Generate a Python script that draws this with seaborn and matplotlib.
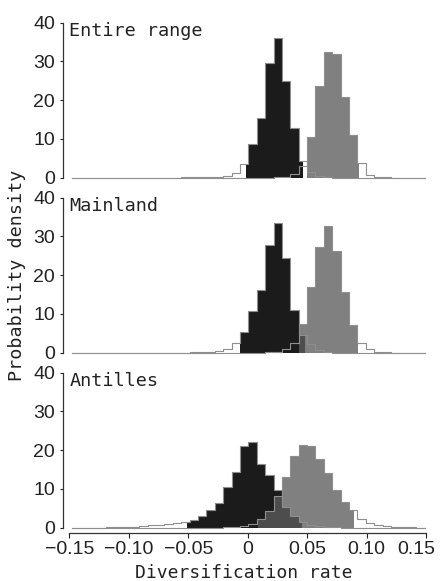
import numpy as np
import seaborn as sns
import matplotlib.pyplot as plt
import matplotlib.transforms as mtransforms

# common histogram grid (density per bin)
first_edge = -0.1475
bin_width = 0.00705
n_bins = 42

panel_names = ["Entire range", "Mainland", "Antilles"]

# dark distribution (first rate) and grey distribution (second rate)
entire_dark = [0] * 13 + [0.05, 0.05, 0.1, 0.1, 0.2, 0.5, 1.1, 3.6, 8.7, 15.5, 29.5, 36.1,
                          25.0, 12.9, 4.3, 1.5, 0.4, 0.1] + [0] * 11
entire_grey = [0] * 24 + [0.1, 0.3, 1.0, 3.0, 10.6, 23.7, 32.5, 31.8, 20.9, 11.0, 3.7,
                          0.8, 0.2, 0.1] + [0] * 4

mainland_dark = [0] * 14 + [0.05, 0.1, 0.1, 0.4, 0.9, 2.6, 5.4, 10.8, 16.2, 27.7, 33.5,
                            24.3, 11.0, 4.5, 2.2, 0.8, 0.2] + [0] * 11
mainland_grey = [0] * 23 + [0.1, 0.3, 1.0, 2.5, 7.3, 17.0, 27.3, 32.7, 26.2, 15.7, 7.1,
                            2.4, 0.9, 0.3, 0.1] + [0] * 4

antilles_dark = [0] * 3 + [0.05, 0.1, 0.15, 0.2, 0.3, 0.4, 0.6, 0.8, 1.0, 1.3, 1.6, 1.9,
                           3.0, 4.5, 6.4, 10.4, 14.4, 21.0, 22.1, 16.5, 13.5, 9.7, 5.4,
                           3.0, 1.5, 0.8, 0.4, 0.2, 0.1] + [0] * 10
antilles_grey = [0] * 18 + [0.1, 0.3, 0.5, 1.0, 2.2, 4.4, 8.1, 13.1, 18.4, 21.3, 21.1,
                            17.6, 14.1, 9.7, 6.7, 4.5, 2.2, 1.2, 0.7, 0.4, 0.25, 0.15,
                            0.1, 0.05]

# 95% intervals that are shaded
entire_hpd = [(-0.0017, 0.0467), (0.0496, 0.0931)]
mainland_hpd = [(-0.0065, 0.0482), (0.0431, 0.0929)]
antilles_hpd = [(-0.0513, 0.0454), (0.0089, 0.0889)]

x_ticks = [-0.15, -0.10, -0.05, 0, 0.05, 0.10, 0.15]
x_tick_labels = ["\u22120.15", "\u22120.10", "\u22120.05", "0", "0.05", "0.10", "0.15"]
y_ticks = [0, 10, 20, 30, 40]

edges = first_edge + bin_width * np.arange(n_bins + 1)
centers = edges[:-1] + bin_width / 2

mono = "DejaVu Sans Mono"
plt.rcParams["font.family"] = ["Liberation Sans", "DejaVu Sans"]
plt.rcParams["axes.linewidth"] = 0.9

outline = "#8f8f8f"
spine_col = "#333333"
text_col = "#222222"


def draw_hist(ax, heights, hpd, color, alpha):
    h = np.asarray(heights, dtype=float)
    # full posterior as a thin outline
    sns.histplot(x=centers, weights=h, bins=list(edges), element="step", fill=False,
                 color=outline, linewidth=0.8, ax=ax)
    # shaded part inside the interval
    lo, hi = hpd
    keep = (edges[1:] > lo) & (edges[:-1] < hi)
    left = np.clip(edges[:-1][keep], lo, hi)
    right = np.clip(edges[1:][keep], lo, hi)
    sns.histplot(x=(left + right) / 2, weights=h[keep], bins=list(np.append(left, right[-1])),
                 element="step", fill=True, color=color, alpha=alpha, linewidth=0, ax=ax)


fig = plt.figure(figsize=(4.4, 5.81), dpi=100)
ax_left, ax_width = 0.1573, 0.8114
bottoms = [0.6942, 0.3930, 0.0917]
height = 0.2670

series = [
    (entire_dark, entire_grey, entire_hpd),
    (mainland_dark, mainland_grey, mainland_hpd),
    (antilles_dark, antilles_grey, antilles_hpd),
]

for i, (name, (dark, grey, hpd)) in enumerate(zip(panel_names, series)):
    ax = fig.add_axes([ax_left, bottoms[i], ax_width, height])
    draw_hist(ax, dark, hpd[0], "#1b1b1b", 1.0)
    draw_hist(ax, grey, hpd[1], "#5c5c5c", 0.78)
    for line in ax.lines:
        line.set_clip_on(False)

    ax.set_xlim(-0.15, 0.15)
    ax.set_ylim(0, 40)
    ax.set_xlabel("")
    ax.set_ylabel("")
    sns.despine(ax=ax, top=True, right=True, bottom=(i < 2))
    ax.spines["left"].set_position(("outward", 4.5))
    ax.spines["left"].set_color(spine_col)
    ax.set_yticks(y_ticks)
    ax.set_yticklabels([str(t) for t in y_ticks])
    ax.tick_params(axis="y", direction="out", length=2.5, width=0.8, pad=3.2,
                   labelsize=14, colors=text_col)
    if i < 2:
        ax.set_xticks([])
    else:
        ax.spines["bottom"].set_position(("outward", 4))
        ax.spines["bottom"].set_color(spine_col)
        ax.set_xticks(x_ticks)
        ax.set_xticklabels(x_tick_labels)
        ax.tick_params(axis="x", direction="out", length=3.6, width=0.8, pad=2.0,
                       labelsize=14, colors=text_col)
        # the last label sits a little left so it stays inside the figure
        last = ax.get_xticklabels()[-1]
        shift = mtransforms.ScaledTranslation(-0.10, 0, fig.dpi_scale_trans)
        last.set_transform(last.get_transform() + shift)
    ax.text(0.0, 1.005, name, transform=ax.transAxes, ha="left", va="top",
            family=mono, fontsize=13.3, color=text_col)

fig.text(0.038, 0.5267, "Probability density", rotation=90, ha="center", va="center",
         family=mono, fontsize=13.2, color=text_col)
fig.text(0.5545, 0.0138, "Diversification rate", ha="center", va="center",
         family=mono, fontsize=13.0, color=text_col)

fig.savefig("out.png", dpi=100)
